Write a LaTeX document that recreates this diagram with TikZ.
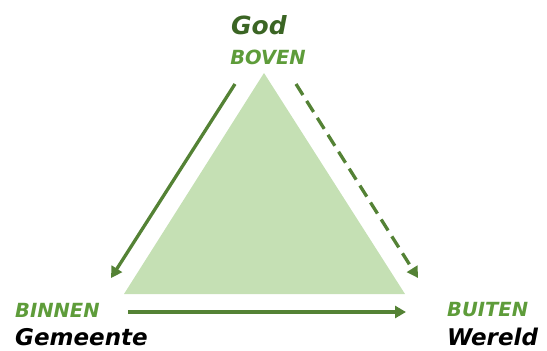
\documentclass[tikz,border=0pt]{standalone}
\usepackage{fontspec}
\setmainfont{DejaVu Sans}
\usetikzlibrary{arrows.meta}
\definecolor{trifill}{HTML}{C5E0B4}
\definecolor{arrowgreen}{HTML}{548235}
\definecolor{labgreen}{HTML}{5E9C3A}
\definecolor{godgreen}{HTML}{3B6524}
\tikzset{
  conn/.style={arrowgreen, line width=3.3pt, -{Triangle[length=11pt,width=12pt]}},
  dirlab/.style={labgreen, font=\fontsize{19.5}{19.5}\selectfont\bfseries\itshape, inner sep=0pt},
  namelab/.style={black, font=\fontsize{23}{23}\selectfont\bfseries\itshape, inner sep=0pt},
}
\begin{document}
\begin{tikzpicture}[x=1pt,y=-1pt]
\useasboundingbox (0,0) rectangle (547,351);
\fill[trifill] (264,73) -- (405,294) -- (124,294) -- cycle;
\node[godgreen, font=\fontsize{25}{25}\selectfont\bfseries\itshape, inner sep=0pt] (god) at (259,25) {God};
\node[dirlab] (boven) at (268,57) {BOVEN};
\node[dirlab, anchor=west] (binnen) at (15,310) {BINNEN};
\node[namelab, anchor=west] (gemeente) at (15,337) {Gemeente};
\node[dirlab, anchor=west] (buiten) at (447,310) {BUITEN};
\node[namelab, anchor=west] (wereld) at (447,337) {Wereld};
\coordinate (lA) at (235,84);
\coordinate (lB) at (111,278);
\coordinate (rA) at (296,84);
\coordinate (rB) at (418,278);
\coordinate (bA) at (128,312);
\coordinate (bB) at (406,312);
\draw[conn] (lA) -- (lB);
\draw[conn, dash pattern=on 13pt off 7pt] (rA) -- (rB);
\draw[conn] (bA) -- (bB);
\end{tikzpicture}
\end{document}
